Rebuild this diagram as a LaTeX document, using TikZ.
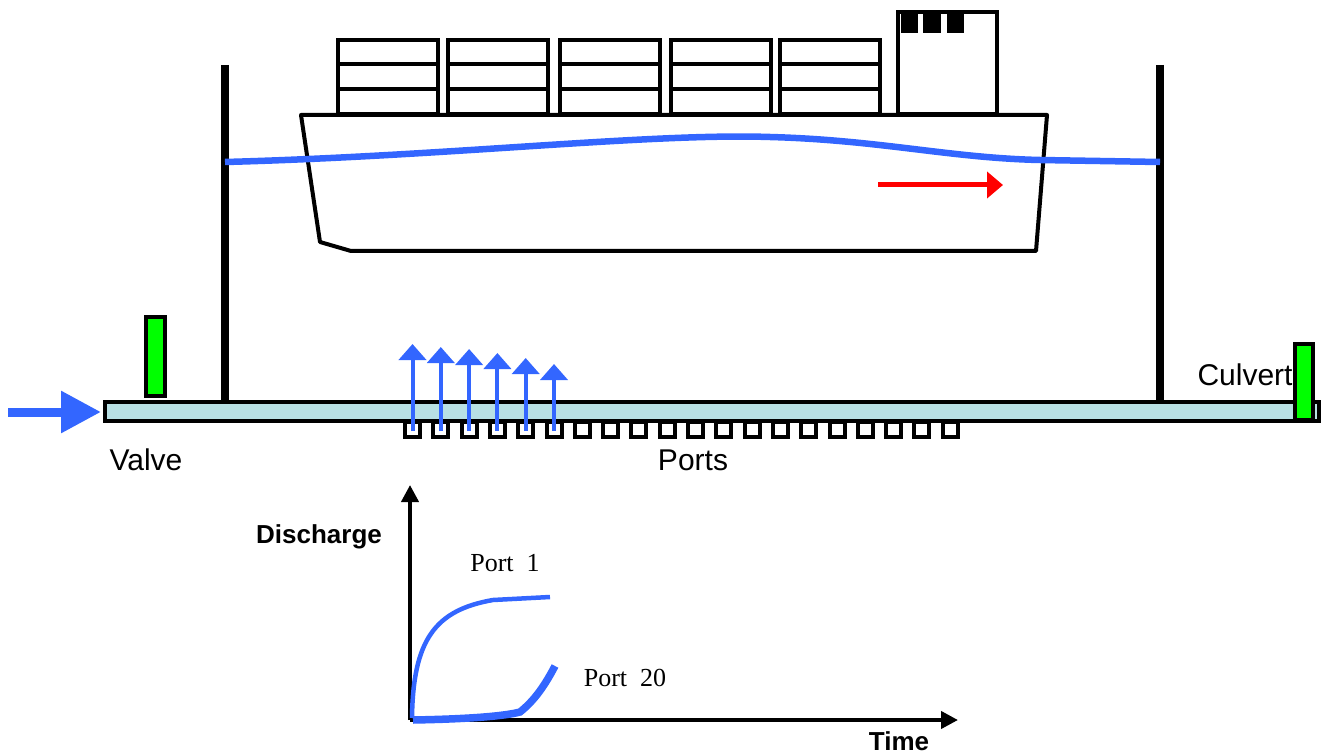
\documentclass[tikz,border=0pt]{standalone}
\usepackage{fontspec}
\setmainfont{Liberation Serif}
\newfontfamily\arialfont{Liberation Sans}
\usetikzlibrary{arrows.meta}

\definecolor{flowblue}{RGB}{51,102,255}
\definecolor{culvertfill}{RGB}{184,224,228}
\definecolor{gategreen}{RGB}{0,255,0}

\begin{document}
\begin{tikzpicture}[x=0.5pt,y=0.5pt,yscale=-1,xscale=1,
  box/.style={line width=2pt},
  hull/.style={line width=2pt, line join=round},
  wall/.style={line width=3.75pt},
  water/.style={flowblue, line width=3.25pt},
  gate/.style={draw, fill=gategreen, line width=2pt},
  port/.style={draw, fill=white, line width=2pt, minimum size=7.5pt, inner sep=0pt},
  jet/.style={flowblue, line width=2pt, -{Triangle[length=8pt,width=13.5pt]}},
  axis/.style={line width=2pt, -{Triangle[length=8.5pt,width=8.5pt]}},
  lbl/.style={font=\arialfont\fontsize{15}{18}\selectfont, inner sep=0pt, anchor=base},
  axlbl/.style={font=\arialfont\bfseries\fontsize{13}{16}\selectfont, inner sep=0pt, anchor=base},
  curvelbl/.style={font=\fontsize{13}{16}\selectfont, inner sep=0pt, anchor=base}
]
\useasboundingbox (0,0) rectangle (1327,754);

%Lock walls
\draw[wall] (225,65) -- (225,402);
\draw[wall] (1160,65) -- (1160,402);

%Container stacks
\foreach \cx in {338,448,560,671,780}{
  \draw[box] (\cx,40) rectangle (\cx+100,114);
  \draw[box] (\cx,64) -- (\cx+100,64);
  \draw[box] (\cx,89) -- (\cx+100,89);
}
%Bridge with its windows
\draw[box] (898,12) rectangle (997,114);
\fill (901,14) rectangle (918,33);
\fill (923,14) rectangle (941,33);
\fill (947,14) rectangle (964,33);

%Shape: hull
\draw[hull] (301,115) -- (1047,115) -- (1036,251) -- (351,251) -- (320,242) -- cycle;

%Water surface
\draw[water] (225,162) .. controls (450,156) and (650,133) .. (770,137) .. controls (880,140) and (950,158) .. (1040,160) -- (1160,162);

%Ship heading
\coordinate (headA) at (878,185);
\coordinate (headB) at (1003,185);
\draw[red, line width=2.5pt, -{Triangle[length=8pt,width=13pt]}] (headA) -- (headB);

%Culvert
\draw[line width=2pt, fill=culvertfill] (105,402) rectangle (1319,421);

%Ports
\foreach \i in {1,...,20}{
  \node[port] (p\i) at ({412.5+28.3*(\i-1)},429) {};
}

%Jets out of the first ports
\foreach \i/\ty in {1/344,2/347,3/349,4/353,5/358,6/364}{
  \coordinate (jet\i) at (p\i.center |- 0,\ty);
  \draw[jet] ([yshift=1pt]p\i.center) -- (jet\i);
}

%Inflow
\coordinate (inA) at (8,412);
\coordinate (inB) at (101,412);
\draw[flowblue, line width=4.5pt, -{Triangle[length=20pt,width=20pt]}] (inA) -- (inB);

%Gates
\draw[gate] (145.5,316.5) rectangle (164.5,395.5);

% Text Node
\node[lbl] (valve) at (146,470) {Valve};
% Text Node
\node[lbl] (ports) at (693,470) {Ports};
% Text Node
\node[lbl] (culvert) at (1245,385) {Culvert};

\draw[gate] (1294.5,343.5) rectangle (1312.5,420);

%Discharge plot
\coordinate (origin) at (410,720);
\coordinate (ytip) at (410,485);
\coordinate (xtip) at (958,720);
\draw[axis] (origin) -- (ytip);
\draw[axis] (origin) -- (xtip);

\draw[flowblue, line width=2.25pt] (412,718) .. controls (413,640) and (435,610) .. (493,600) -- (550,597);
\draw[flowblue, line width=3.75pt] (413,720) .. controls (470,719) and (505,716) .. (520,712) .. controls (535,700) and (545,685) .. (555,666);

% Text Node
\node[axlbl] (qlabel) at (319,543) {Discharge};
% Text Node
\node[axlbl] (tlabel) at (899,750) {Time};
% Text Node
\node[curvelbl] (first) at (505,571) {Port~~1};
% Text Node
\node[curvelbl] (last) at (625,686) {Port~~20};

\end{tikzpicture}
\end{document}
